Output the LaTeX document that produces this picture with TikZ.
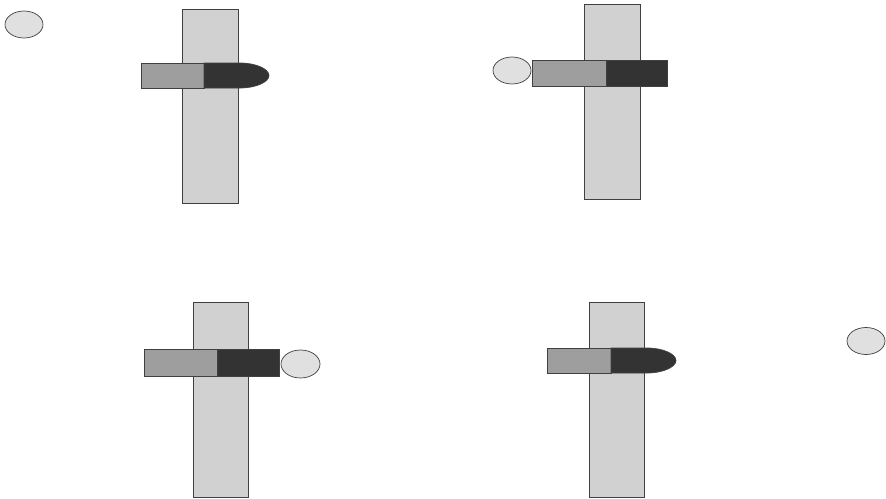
\documentclass[tikz,border=0pt]{standalone}
\begin{document}
\begin{tikzpicture}[x=1pt,y=-1pt,
  edge/.style={draw=black!75,line width=0.7pt},
  barfill/.style={edge,fill=black!18},
  lightfill/.style={edge,fill=black!38},
  darkfill/.style={edge,fill=black!80},
  ballfill/.style={edge,fill=black!12}]
\useasboundingbox (0,0) rectangle (886,498);
% Panel 1
\draw[ballfill] (24,24.5) ellipse [x radius=19,y radius=13.5];
\draw[barfill] (182,9) rectangle (238,203);
\draw[lightfill] (141,63) rectangle (204,88);
\draw[darkfill] (204,63) -- (240,63) .. controls (256,63) and (269,69) .. (269,75.5)
  .. controls (269,82) and (256,88) .. (240,88) -- (204,88) -- cycle;
% Panel 2
\draw[ballfill] (512,70.5) ellipse [x radius=19,y radius=13.5];
\draw[barfill] (584,4) rectangle (640,199);
\draw[lightfill] (532,60) rectangle (606,86);
\draw[darkfill] (606,60) rectangle (667,86);
% Panel 3
\draw[barfill] (193,302) rectangle (248,497);
\draw[lightfill] (144,349) rectangle (217,376);
\draw[darkfill] (217,349) rectangle (279,376);
\draw[ballfill] (300.5,364) ellipse [x radius=19.5,y radius=14];
% Panel 4
\draw[barfill] (589,302) rectangle (644,497);
\draw[lightfill] (547,348) rectangle (611,373);
\draw[darkfill] (611,348) -- (647,348) .. controls (663,348) and (676,354) .. (676,360.5)
  .. controls (676,367) and (663,373) .. (647,373) -- (611,373) -- cycle;
\draw[ballfill] (866,341) ellipse [x radius=19,y radius=13.5];
\end{tikzpicture}
\end{document}
